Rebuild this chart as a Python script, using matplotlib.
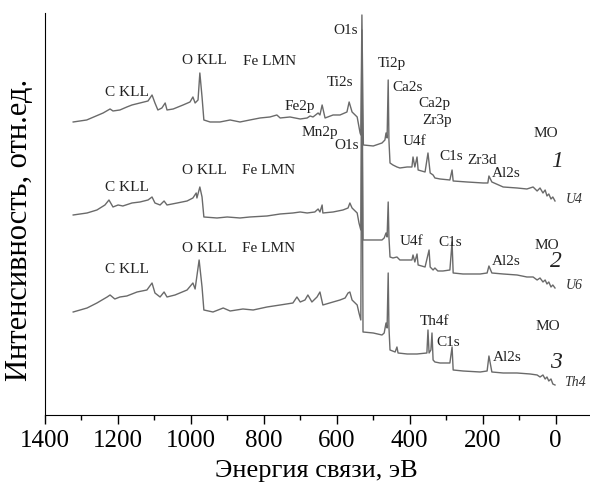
import matplotlib
matplotlib.use("Agg")
import matplotlib.pyplot as plt
from matplotlib.ticker import MultipleLocator

plt.rcParams['font.family'] = ['Liberation Serif', 'DejaVu Serif']

# binding energy (eV) and intensity (arb. units, curves already stacked)
be_u4 = [1322, 1285, 1240, 1221, 1213, 1194, 1175, 1161, 1139, 1117, 1106, 1098,
         1090, 1079, 1070, 1065, 1048, 1021, 1002, 994, 988, 980, 975, 969, 964,
         947, 920, 892, 865, 838, 810, 783, 764, 755, 728, 700, 681, 673, 665,
         651, 646, 640, 632, 610, 591, 572, 566, 558, 544, 539, 536, 534, 531,
         527, 500, 476, 468, 465, 462, 459, 457, 454, 446, 435, 427, 407, 394,
         391, 386, 380, 377, 358, 350, 344, 336, 331, 317, 290, 284, 281, 243,
         199, 186, 183, 175, 144, 106, 79, 62, 51, 43, 35, 29, 24, 19, 13, 8, 2]
int_u4 = [293, 295, 302, 306, 304, 305, 308, 310, 312, 314, 320, 312,
          305, 307, 312, 305, 306, 310, 313, 318, 312, 315, 342, 318, 295,
          293, 293, 295, 293, 295, 297, 298, 300, 297, 298, 296, 297, 299, 298,
          302, 300, 310, 297, 300, 300, 303, 313, 303, 298, 288, 282, 280, 400,
          270, 269, 272, 275, 282, 277, 335, 275, 252, 250, 248, 247, 248, 248,
          258, 248, 258, 245, 243, 262, 242, 240, 237, 236, 235, 245, 234, 233,
          232, 232, 239, 233, 228, 227, 226, 228, 224, 227, 222, 225, 219, 221, 216, 218, 214]

be_u6 = [1322, 1284, 1257, 1235, 1224, 1213, 1199, 1186, 1161, 1139, 1117, 1106,
         1098, 1084, 1073, 1065, 1037, 1010, 994, 985, 983, 975, 969, 964, 928,
         900, 865, 838, 791, 755, 720, 700, 681, 660, 651, 646, 640, 638, 610,
         583, 569, 564, 558, 544, 539, 534, 531, 528, 500, 476, 470, 465, 462,
         459, 457, 454, 446, 435, 427, 407, 394, 391, 386, 380, 377, 358, 347,
         344, 336, 331, 323, 309, 290, 284, 281, 254, 207, 188, 183, 175, 144,
         106, 79, 62, 51, 43, 35, 29, 24, 19, 13, 8, 2]
int_u6 = [200, 202, 205, 210, 215, 208, 210, 209, 212, 213, 215, 218,
          212, 210, 214, 210, 212, 214, 217, 222, 217, 228, 218, 198, 197,
          198, 197, 198, 199, 201, 202, 203, 202, 203, 206, 203, 210, 202, 203,
          205, 207, 212, 207, 202, 192, 185, 385, 175, 175, 175, 177, 182, 178,
          213, 178, 158, 157, 158, 155, 155, 155, 160, 153, 161, 150, 148, 165,
          148, 145, 147, 144, 144, 145, 173, 142, 141, 141, 142, 149, 142, 141,
          140, 138, 138, 135, 137, 133, 135, 131, 133, 128, 130, 127]

be_th4 = [1322, 1284, 1257, 1229, 1221, 1208, 1194, 1175, 1147, 1120, 1106, 1098,
          1084, 1073, 1065, 1043, 1010, 994, 988, 977, 969, 964, 939, 911, 892,
          857, 829, 791, 755, 720, 709, 700, 687, 679, 668, 654, 646, 638, 610,
          591, 577, 569, 564, 558, 544, 539, 534, 531, 528, 500, 476, 470, 465,
          462, 459, 457, 454, 440, 435, 432, 407, 380, 353, 350, 347, 342, 339,
          336, 331, 317, 290, 284, 281, 254, 207, 188, 183, 175, 144, 106, 70,
          51, 43, 35, 29, 24, 19, 13, 8, 2]
int_th4 = [103, 107, 112, 118, 120, 116, 118, 119, 123, 125, 132, 122,
           118, 123, 118, 120, 125, 132, 126, 155, 128, 105, 103, 107, 104,
           106, 105, 108, 110, 112, 118, 113, 115, 120, 113, 118, 123, 110, 113,
           115, 117, 122, 123, 115, 110, 102, 95, 355, 83, 82, 80, 82, 92,
           87, 142, 88, 65, 63, 68, 62, 61, 61, 62, 85, 62, 65, 82,
           55, 53, 52, 52, 68, 45, 44, 43, 44, 59, 43, 42, 42, 41,
           40, 38, 40, 36, 38, 34, 36, 31, 30]

# peak labels: (text, binding energy, intensity)
labels_u4 = [("C KLL", 1175, 322), ("O KLL", 963, 354), ("Fe LMN", 783, 353),
             ("Ti2s", 591, 332), ("Fe2p", 700, 308), ("Mn2p", 646, 282),
             ("O1s", 575, 384), ("O1s", 572, 269), ("Ti2p", 448, 351),
             ("Ca2s", 407, 327), ("Ca2p", 331, 311), ("Zr3p", 325, 294),
             ("U4f", 388, 273), ("C1s", 287, 258), ("Zr3d", 202, 254),
             ("Al2s", 136, 241), ("MO", 27, 281)]
labels_u6 = [("C KLL", 1175, 227), ("O KLL", 963, 244), ("Fe LMN", 788, 244),
             ("U4f", 394, 173), ("C1s", 290, 172), ("Al2s", 136, 153),
             ("MO", 24, 169)]
labels_th4 = [("C KLL", 1175, 145), ("O KLL", 963, 166), ("Fe LMN", 788, 166),
              ("Th4f", 331, 93), ("C1s", 295, 72), ("Al2s", 133, 57),
              ("MO", 21, 88)]

# curve number and sample name
numbers = [("1", -4, 253), ("2", -1, 153), ("3", -1, 52)]
samples = [("U4", -50, 215), ("U6", -50, 129), ("Th4", -53, 32)]

fig = plt.figure(figsize=(5.9, 4.88), dpi=100)
ax = fig.add_axes([0.0758, 0.1496, 0.9218, 0.8238])

line_color = '#6a6a6a'
for be, inten in [(be_u4, int_u4), (be_u6, int_u6), (be_th4, int_th4)]:
    ax.plot(be, inten, color=line_color, lw=1.0)

for group in (labels_u4, labels_u6, labels_th4):
    for txt, x, y in group:
        ax.text(x, y, txt, fontsize=11, ha='center', va='center', color='#222222')

for txt, x, y in numbers:
    ax.text(x, y, txt, fontsize=17, style='italic', ha='center', va='center',
            color='#222222')
for txt, x, y in samples:
    ax.text(x, y, txt, fontsize=10, style='italic', ha='center', va='center',
            color='#333333')

ax.set_xlim(1400, -90)
ax.set_ylim(0, 402)
ax.xaxis.set_major_locator(MultipleLocator(200))
ax.xaxis.set_minor_locator(MultipleLocator(100))
ax.tick_params(axis='x', which='major', direction='out', length=6.5, width=1,
               labelsize=18, pad=4)
ax.tick_params(axis='x', which='minor', direction='out', length=3.5, width=1)
ax.set_yticks([])
ax.spines['top'].set_visible(False)
ax.spines['right'].set_visible(False)

ax.set_xlabel("Энергия связи, эВ", fontsize=19, labelpad=6)
ax.set_ylabel("Интенсивность, отн.ед.", fontsize=22)
ax.yaxis.set_label_coords(-0.02, 0.46)

fig.savefig("out.png", dpi=100)
